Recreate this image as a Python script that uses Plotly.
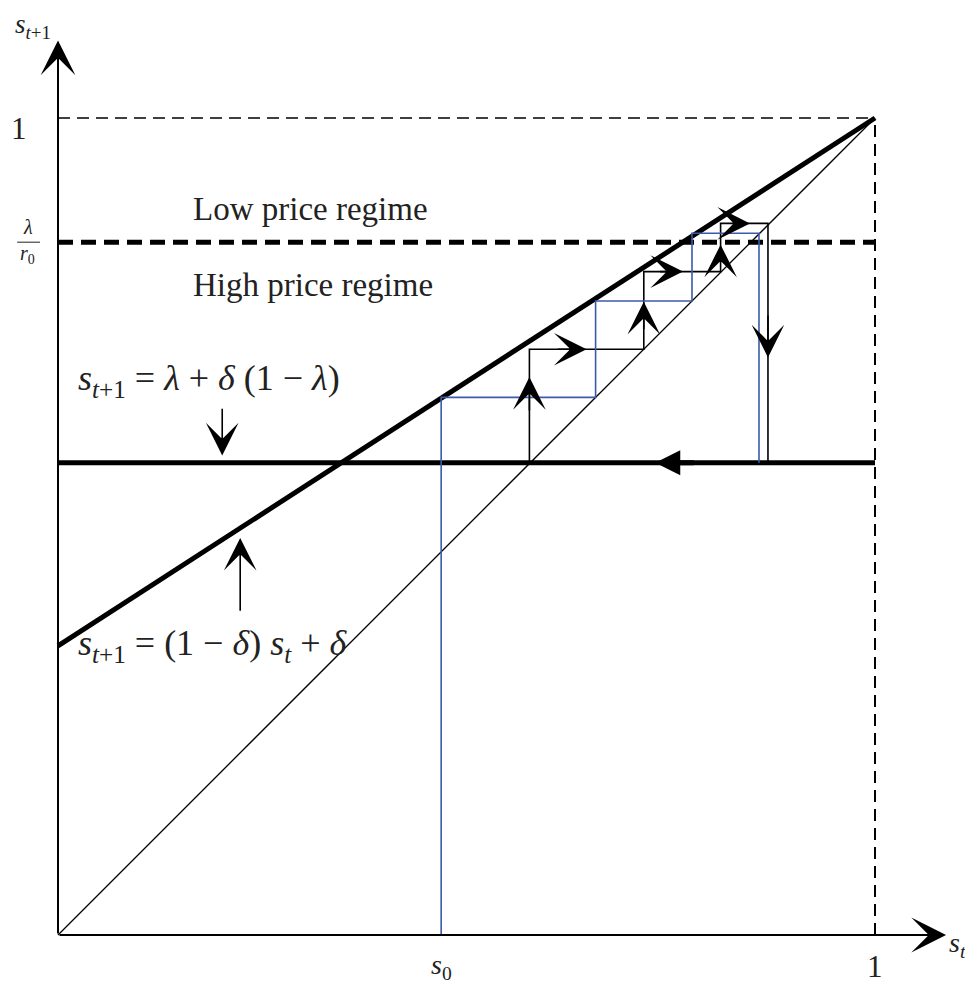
import plotly.graph_objects as go

# model values (unit square, s_t on x, s_{t+1} on y)
delta = 0.354          # intercept of s_{t+1} = (1-delta) s_t + delta
floor_level = 0.578    # s_{t+1} = lambda + delta (1 - lambda)
regime_cut = 0.848     # lambda / r0
s0 = 0.469

# black cobweb (hand drawn in the original, so read point by point)
black_x = [0.577, 0.577, 0.717, 0.717, 0.811, 0.811, 0.869, 0.869]
black_y = [0.578, 0.717, 0.717, 0.812, 0.812, 0.871, 0.871, 0.578]

# blue cobweb starting at s0
blue_x = [0.469, 0.469, 0.658, 0.658, 0.776, 0.776, 0.858, 0.858]
blue_y = [0.0, 0.658, 0.658, 0.776, 0.776, 0.859, 0.859, 0.578]

# direction arrows on the black path: (tip x, tip y, tail x, tail y)
path_arrows = [
    (0.577, 0.683, 0.577, 0.640),
    (0.647, 0.717, 0.610, 0.717),
    (0.717, 0.775, 0.717, 0.740),
    (0.765, 0.812, 0.735, 0.812),
    (0.811, 0.845, 0.811, 0.825),
    (0.847, 0.871, 0.825, 0.871),
    (0.869, 0.707, 0.869, 0.760),
]

BLUE = "#3b5ba9"
SERIF = "Liberation Serif"
NB = "\u00a0"

# page body has an 8px margin, figure is shrunk to compensate
W, H = 965, 977
OX, OY, UNIT = 50, 927, 817   # origin in figure pixels, pixels per unit

fig = go.Figure()

def line(xs, ys, width, color="black", dash="solid"):
    fig.add_trace(go.Scatter(x=xs, y=ys, mode="lines", hoverinfo="skip",
                             line=dict(color=color, width=width, dash=dash)))

# guides
line([0, 1], [1, 1], 1.5, dash="12px,7px")
line([1, 1], [0, 1], 2, dash="12px,7px")
line([0, 1], [regime_cut, regime_cut], 5, dash="15px,8px")

# 45 degree line
line([0, 1], [0, 1], 1.3)

# the two maps
line([0, 1], [delta, 1], 5)
line([0, 1], [floor_level, floor_level], 5)

# cobwebs
line(black_x, black_y, 1.6)
line(blue_x, blue_y, 1.6, color=BLUE)

def arrow(x, y, ax, ay, width=1.6, head=3, size=3.4):
    fig.add_annotation(x=x, y=y, ax=ax, ay=ay, xref="x", yref="y",
                       axref="x", ayref="y", text="", showarrow=True,
                       arrowhead=head, arrowsize=size, arrowwidth=width,
                       arrowcolor="black")

# axes
arrow(0, 1.095, 0, 0, width=2, size=2.9)
arrow(1.087, 0, 0, 0, width=2, size=2.9)

for tx, ty, bx, by in path_arrows:
    arrow(tx, ty, bx, by)

# leftward arrow on the horizontal map
arrow(0.731, floor_level, 0.780, floor_level, width=5, head=2, size=1.0)

# label pointers
arrow(0.201, 0.587, 0.201, 0.646)
arrow(0.223, 0.486, 0.223, 0.395)

def label(x, y, text, size=30, xanchor="center", yanchor="middle"):
    fig.add_annotation(x=x, y=y, xref="x", yref="y", text=text,
                       showarrow=False, xanchor=xanchor, yanchor=yanchor,
                       borderpad=0,
                       font=dict(family=SERIF, size=size, color="#222222"))

label(0.164, 0.889, "Low price regime", size=33, xanchor="left")
label(0.164, 0.796, "High price regime", size=33, xanchor="left")
eq1 = (f"<i>s</i><sub><i>t</i>+1</sub>{NB}={NB}<i>λ</i>{NB}+{NB}<i>δ</i>"
       f"{NB}(1{NB}−{NB}<i>λ</i>)")
eq2 = (f"<i>s</i><sub><i>t</i>+1</sub>{NB}={NB}(1{NB}−{NB}<i>δ</i>)"
       f"{NB}<i>s</i><sub><i>t</i></sub>{NB}+{NB}<i>δ</i>")
label(0.023, 0.679, eq1, size=36, xanchor="left")
label(0.023, 0.354, eq2, size=36, xanchor="left")

# tick-like labels
label(-0.048, 0.987, "1", size=31)
label(-0.037, 0.866, "<i>λ</i>", size=20)
label(-0.037, 0.833, "<i>r</i><sub>0</sub>", size=20)
fig.add_shape(type="line", xref="x", yref="y", x0=-0.050, x1=-0.022,
              y0=0.848, y1=0.848, line=dict(color="#222222", width=1))
label(-0.030, OY / UNIT, "<i>s</i><sub><i>t</i>+1</sub>", size=27, yanchor="top")
label(s0, -(H - OY) / UNIT, "<i>s</i><sub>0</sub>", size=28, yanchor="bottom")
label(1.0, -(H - OY) / UNIT, "1", size=31, yanchor="bottom")
label(1.089, -0.012, "<i>s</i><sub><i>t</i></sub>", size=28, xanchor="left")

fig.update_layout(
    width=W, height=H, autosize=False,
    margin=dict(l=0, r=0, t=0, b=0),
    paper_bgcolor="white", plot_bgcolor="white",
    showlegend=False,
    xaxis=dict(range=[-OX / UNIT, (W - OX) / UNIT], visible=False, fixedrange=True),
    yaxis=dict(range=[-(H - OY) / UNIT, OY / UNIT], visible=False, fixedrange=True),
)

fig.write_html("out.html")
